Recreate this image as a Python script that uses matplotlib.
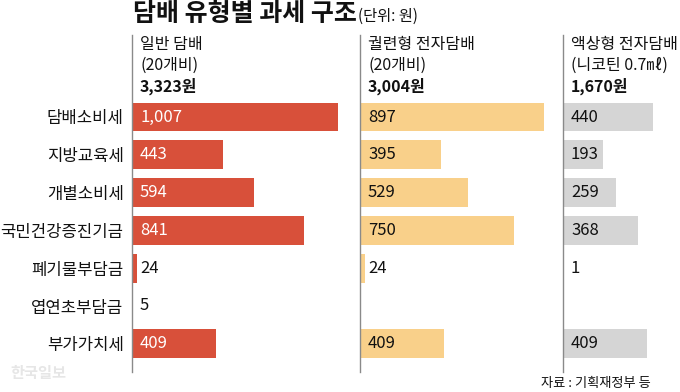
import numpy as np
import matplotlib
matplotlib.use("Agg")
import matplotlib.pyplot as plt

plt.rcParams['font.family'] = ['Noto Sans CJK KR', 'DejaVu Sans']

# data
categories = ['담배소비세', '지방교육세', '개별소비세', '국민건강증진기금',
              '폐기물부담금', '엽연초부담금', '부가가치세']
general = [1007, 443, 594, 841, 24, 5, 409]
heated = [897, 395, 529, 750, 24, None, 409]
liquid = [440, 193, 259, 368, 1, None, 409]
headers = [['일반 담배', '(20개비)', '3,323원'],
           ['궐련형 전자담배', '(20개비)', '3,004원'],
           ['액상형 전자담배', '(니코틴 0.7㎖)', '1,670원']]
series = [general, heated, liquid]
colors = ['#d8503a', '#f9d08a', '#d5d5d5']

W, H = 680, 392
fig = plt.figure(figsize=(W / 100, H / 100), dpi=100)

def rect(x0, x1, y0, y1):
    return [x0 / W, 1 - y1 / H, (x1 - x0) / W, (y1 - y0) / H]

px_per_unit = 0.205
axis_x = [132, 360, 563]
right_x = [360, 563, 680]
top_y, bot_y = 35, 372
row0, step = 117, 37.8
ylim = ((bot_y - row0) / step, (top_y - row0) / step)
y = np.arange(len(categories))

for k in range(3):
    ax = fig.add_axes(rect(axis_x[k], right_x[k], top_y, bot_y))
    width_px = right_x[k] - axis_x[k]
    ax.set_xlim(0, width_px / px_per_unit)
    ax.set_ylim(*ylim)
    vals = series[k]
    for i, v in enumerate(vals):
        if v is None:
            continue
        ax.barh(y[i], v, height=0.76, color=colors[k], linewidth=0)
        tc = 'white' if (k == 0 and v > 100) else '#111111'
        ax.text(8 / px_per_unit, y[i], f'{v:,}', va='center', ha='left',
                fontsize=12, color=tc)
    for s in ['top', 'right', 'bottom']:
        ax.spines[s].set_visible(False)
    ax.spines['left'].set_color('#8a8a8a')
    ax.spines['left'].set_linewidth(1)
    ax.set_xticks([])
    if k == 0:
        ax.set_yticks(y)
        ax.set_yticklabels(categories, fontsize=12, color='#111111')
        ax.tick_params(axis='y', length=0, pad=6)
    else:
        ax.set_yticks([])
    # header lines
    hx = (axis_x[k] + 8) / W
    for j, line in enumerate(headers[k]):
        fig.text(hx, 1 - (45 + 20.5 * j) / H, line, va='center', ha='left',
                 fontsize=11.5, color='#111111',
                 fontweight='bold' if j == 2 else 'normal')

# title
title = fig.text(133 / W, 1 - 14 / H, '담배 유형별 과세 구조', va='center',
                 ha='left', fontsize=18, fontweight='bold', color='#111111')
renderer = fig.canvas.get_renderer()
bb = title.get_window_extent(renderer)
fig.text((bb.x1 + 1) / W, 1 - 16 / H, '(단위: 원)', va='center', ha='left',
         fontsize=11, color='#111111')

fig.text(651 / W, 1 - 384 / H, '자료 : 기획재정부 등', va='center', ha='right',
         fontsize=9.5, color='#111111')
fig.text(10 / W, 1 - 373 / H, '한국일보', va='center', ha='left',
         fontsize=11, fontweight='bold', color='#e6e6e6')

fig.savefig('out.png', dpi=100)
